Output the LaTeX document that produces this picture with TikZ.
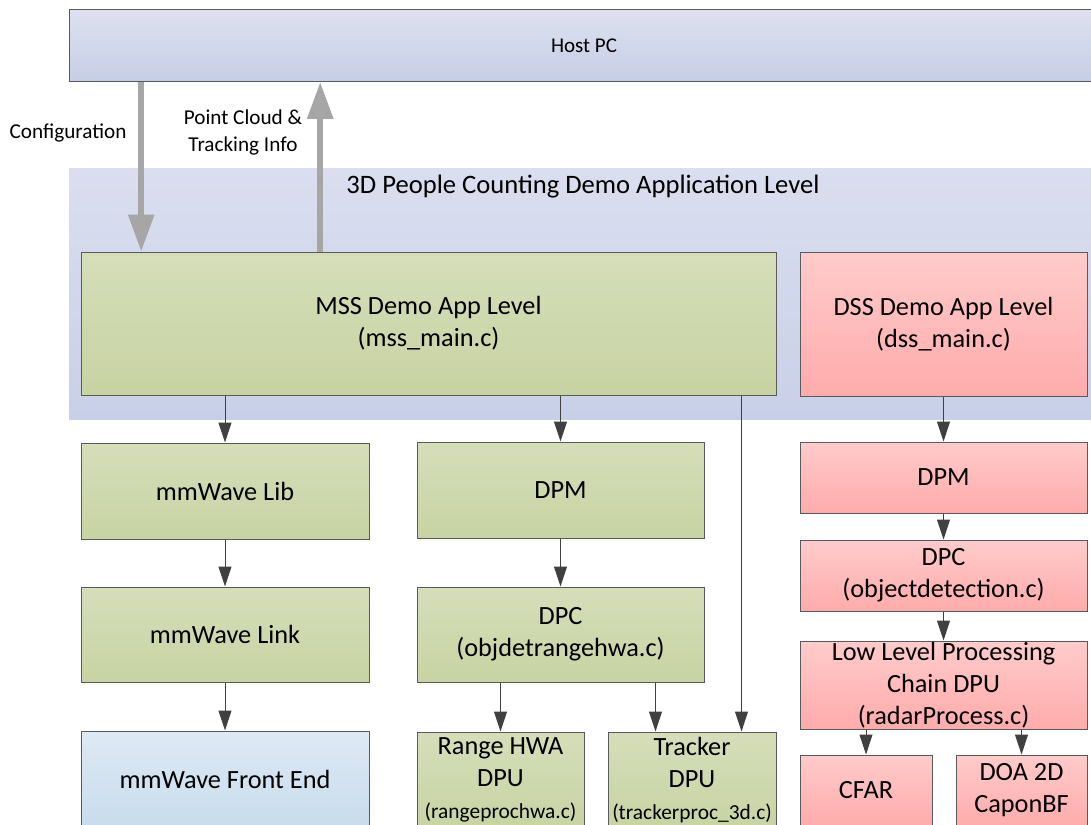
\documentclass[tikz,border=0pt]{standalone}
\usepackage{fontspec}
\setmainfont{Carlito}
\usepackage{tikz}
\usetikzlibrary{arrows.meta, calc}
\definecolor{HostTop}{HTML}{DDE1EF}
\definecolor{HostBot}{HTML}{C6CEE6}
\definecolor{BandTop}{HTML}{DADEEF}
\definecolor{BandBot}{HTML}{C8D0E8}
\definecolor{GreenTop}{HTML}{D5DEB9}
\definecolor{GreenBot}{HTML}{C8D3A3}
\definecolor{PinkTop}{HTML}{FFCBCB}
\definecolor{PinkBot}{HTML}{FFABAB}
\definecolor{FrontTop}{HTML}{DEE9F3}
\definecolor{FrontBot}{HTML}{C8DCED}
\definecolor{BoxLine}{HTML}{5A5A5A}
\definecolor{FlowGray}{HTML}{404040}
\definecolor{FatGray}{HTML}{A6A6A6}

\begin{document}
\begin{tikzpicture}[x=1pt, y=-1pt,
    blk/.style={draw=BoxLine, line width=1pt, inner sep=0pt, align=center, font=\fontsize{26.3}{32}\selectfont},
    greenbox/.style={blk, top color=GreenTop, bottom color=GreenBot},
    pinkbox/.style={blk, top color=PinkTop, bottom color=PinkBot},
    flow/.style={draw=FlowGray, line width=1pt, -{Triangle[length=20pt, width=13pt]}},
    bigarrow/.style={draw=FatGray, line width=6pt, -{Triangle[length=37pt, width=25pt]}},
    smalltxt/.style={font=\fontsize{21.2}{27}\selectfont, align=center}]
    \useasboundingbox (0,0) rectangle (1091,824);
    \clip (0,0) rectangle (1091,824);

    \node[minimum width=1030pt, minimum height=251pt, inner sep=0pt, top color=BandTop, bottom color=BandBot] (band) at (584,293.5) {};
    \node[font=\fontsize{26.6}{32}\selectfont] (title) at (583,187) {3D People Counting Demo Application Level};

    \node[blk, top color=HostTop, bottom color=HostBot, minimum width=1030pt, minimum height=72pt, font=\fontsize{21}{25}\selectfont] (host) at (584,45.5) {Host PC};
    \node[smalltxt] (cfglabel) at (68,133) {Configuration};
    \node[smalltxt] (pclabel) at (243,132.5) {Point Cloud \&\\Tracking Info};

    \node[greenbox, minimum width=695pt, minimum height=143pt] (mss) at (428.5,323.5) {MSS Demo App Level\\(mss\_main.c)};
    \node[pinkbox, minimum width=287pt, minimum height=144pt] (dss) at (943.5,324) {DSS Demo App Level\\(dss\_main.c)};

    \node[greenbox, minimum width=288pt, minimum height=96pt] (lib) at (225,491) {mmWave Lib};
    \node[greenbox, minimum width=288pt, minimum height=95pt] (link) at (225,634.5) {mmWave Link};
    \node[blk, top color=FrontTop, bottom color=FrontBot, minimum width=288pt, minimum height=96pt] (fe) at (225,779) {mmWave Front End};

    \node[greenbox, minimum width=287pt, minimum height=96pt] (dpm1) at (560.5,490) {DPM};
    \node[greenbox, minimum width=287pt, minimum height=95pt] (dpc1) at (560.5,634.5) {DPC\\(objdetrangehwa.c)};
    \node[greenbox, minimum width=167pt, minimum height=96pt] (range) at (500.5,780) {Range HWA\\DPU\\{\fontsize{21.4}{25}\selectfont(rangeprochwa.c)}};
    \node[greenbox, minimum width=168pt, minimum height=96pt] (tracker) at (692,780) {Tracker\\DPU\\{\fontsize{21.4}{25}\selectfont(trackerproc\_3d.c)}};

    \node[pinkbox, minimum width=287pt, minimum height=71pt] (dpm2) at (943.5,477.5) {DPM};
    \node[pinkbox, minimum width=287pt, minimum height=71pt] (dpc2) at (943.5,575.5) {DPC\\(objectdetection.c)};
    \node[pinkbox, minimum width=287pt, minimum height=88pt] (llp) at (943.5,685) {Low Level Processing\\Chain DPU\\(radarProcess.c)};
    \node[pinkbox, minimum width=132pt, minimum height=71pt] (cfar) at (866,790.5) {CFAR};
    \node[pinkbox, minimum width=131pt, minimum height=71pt] (doa) at (1021.5,790.5) {DOA 2D\\CaponBF};

    \coordinate (cfgfoot) at ($(mss.north west)+(60.7,0)$);
    \coordinate (pcfoot) at ($(mss.north west)+(239.7,0)$);
    \draw[bigarrow] (host.south -| cfgfoot) -- (cfgfoot);
    \draw[bigarrow] (pcfoot) -- (host.south -| pcfoot);

    \coordinate (trkright) at ($(tracker.north east)+(-35,0)$);
    \coordinate (trkleft) at ($(tracker.north west)+(48,0)$);
    \draw[flow] (mss.south -| lib.north) -- (lib.north);
    \draw[flow] (mss.south -| dpm1.north) -- (dpm1.north);
    \draw[flow] (mss.south -| trkright) -- (trkright);
    \draw[flow] (dss.south) -- (dpm2.north);
    \draw[flow] (lib.south) -- (link.north);
    \draw[flow] (link.south) -- (fe.north);
    \draw[flow] (dpm1.south) -- (dpc1.north);
    \draw[flow] (dpc1.south -| range.north) -- (range.north);
    \draw[flow] (dpc1.south -| trkleft) -- (trkleft);
    \draw[flow] (dpm2.south) -- (dpc2.north);
    \draw[flow] (dpc2.south) -- (llp.north);
    \draw[flow] (llp.south -| cfar.north) -- (cfar.north);
    \draw[flow] (llp.south -| doa.north) -- (doa.north);
\end{tikzpicture}
\end{document}
